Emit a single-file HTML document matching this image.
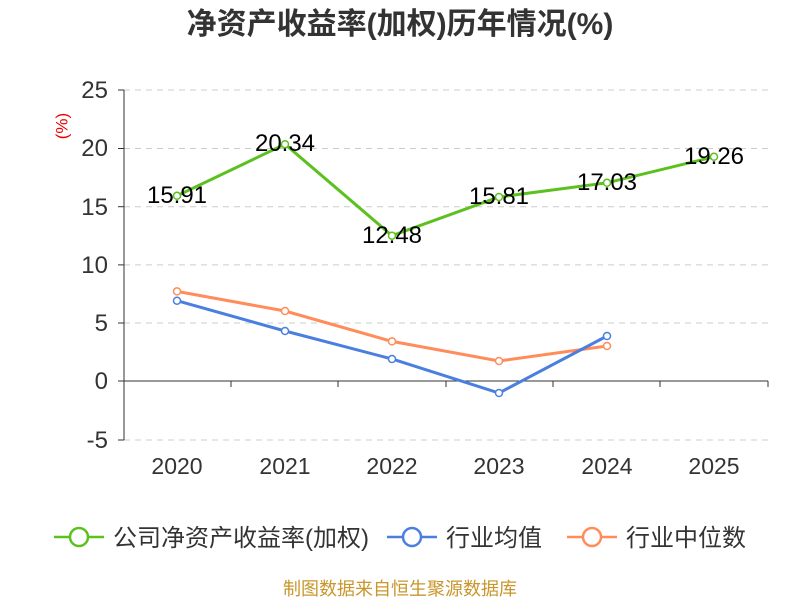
<!DOCTYPE html>
<html><head><meta charset="utf-8"><style>
body{margin:0;background:#fff;}
svg{display:block;font-family:"Liberation Sans","Noto Sans CJK SC",sans-serif;}
</style></head><body>
<svg width="800" height="600" viewBox="0 0 800 600">
<text x="400" y="34" text-anchor="middle" font-size="30" font-weight="bold" fill="#333">净资产收益率(加权)历年情况(%)</text>
<text x="63" y="126" font-size="17" fill="#e00" transform="rotate(-90 63 126)" text-anchor="middle" dominant-baseline="middle">(%)</text>
<g stroke="#ccc" stroke-dasharray="6,5" stroke-width="1">
<line x1="124" y1="90" x2="768" y2="90"/><line x1="124" y1="148.5" x2="768" y2="148.5"/>
<line x1="124" y1="206.7" x2="768" y2="206.7"/><line x1="124" y1="264.9" x2="768" y2="264.9"/>
<line x1="124" y1="323" x2="768" y2="323"/><line x1="124" y1="440" x2="768" y2="440"/>
</g>
<g stroke="#333" stroke-width="1">
<line x1="124" y1="90" x2="124" y2="440"/>
<line x1="118" y1="90" x2="124" y2="90"/><line x1="118" y1="148.5" x2="124" y2="148.5"/>
<line x1="118" y1="206.7" x2="124" y2="206.7"/><line x1="118" y1="264.9" x2="124" y2="264.9"/>
<line x1="118" y1="323" x2="124" y2="323"/><line x1="118" y1="381" x2="124" y2="381"/>
<line x1="118" y1="440" x2="124" y2="440"/>
<line x1="124" y1="381" x2="768" y2="381"/>
<line x1="231" y1="381" x2="231" y2="387"/><line x1="338" y1="381" x2="338" y2="387"/>
<line x1="446" y1="381" x2="446" y2="387"/><line x1="553" y1="381" x2="553" y2="387"/>
<line x1="660" y1="381" x2="660" y2="387"/><line x1="768" y1="381" x2="768" y2="387"/>
</g>
<g font-size="24" fill="#333" text-anchor="end">
<text x="108" y="98">25</text><text x="108" y="156">20</text><text x="108" y="215">15</text>
<text x="108" y="273">10</text><text x="108" y="331">5</text><text x="108" y="389">0</text><text x="108" y="448">-5</text>
</g>
<g font-size="23" fill="#333" text-anchor="middle">
<text x="177" y="474">2020</text><text x="285" y="474">2021</text><text x="392" y="474">2022</text>
<text x="499" y="474">2023</text><text x="607" y="474">2024</text><text x="714" y="474">2025</text>
</g>
<polyline fill="none" stroke="#ff8c5a" stroke-width="3" points="177,291.4 285,311 392,341.4 499,361 607,346"/>
<polyline fill="none" stroke="#4a7fe0" stroke-width="3" points="177,300.7 285,331 392,359 499,393 607,336"/>
<polyline fill="none" stroke="#5cc11f" stroke-width="3" points="177,195.8 285,144.2 392,235.7 499,197 607,182.8 714,156.8"/>
<g fill="#fff" stroke-width="1.5">
<g stroke="#ff8c5a"><circle cx="177" cy="291.4" r="3.5"/><circle cx="285" cy="311" r="3.5"/><circle cx="392" cy="341.4" r="3.5"/><circle cx="499" cy="361" r="3.5"/><circle cx="607" cy="346" r="3.5"/></g>
<g stroke="#4a7fe0"><circle cx="177" cy="300.7" r="3.5"/><circle cx="285" cy="331" r="3.5"/><circle cx="392" cy="359" r="3.5"/><circle cx="499" cy="393" r="3.5"/><circle cx="607" cy="336" r="3.5"/></g>
<g stroke="#5cc11f"><circle cx="177" cy="195.8" r="3.5"/><circle cx="285" cy="144.2" r="3.5"/><circle cx="392" cy="235.7" r="3.5"/><circle cx="499" cy="197" r="3.5"/><circle cx="607" cy="182.8" r="3.5"/><circle cx="714" cy="156.8" r="3.5"/></g>
</g>
<g font-size="24" fill="#000" text-anchor="middle">
<text x="177" y="203">15.91</text><text x="285" y="151">20.34</text><text x="392" y="243">12.48</text>
<text x="499" y="204">15.81</text><text x="607" y="190">17.03</text><text x="714" y="164">19.26</text>
</g>
<g stroke-width="2.5" fill="#fff">
<line x1="54" y1="537" x2="104" y2="537" stroke="#5cc11f"/><circle cx="79" cy="537" r="9" stroke="#5cc11f"/>
<line x1="387" y1="537" x2="437" y2="537" stroke="#4a7fe0"/><circle cx="412" cy="537" r="9" stroke="#4a7fe0"/>
<line x1="567" y1="537" x2="617" y2="537" stroke="#ff8c5a"/><circle cx="592" cy="537" r="9" stroke="#ff8c5a"/>
</g>
<g font-size="24" fill="#333">
<text x="113" y="546">公司净资产收益率(加权)</text>
<text x="446" y="546">行业均值</text>
<text x="626" y="546">行业中位数</text>
</g>
<text x="400" y="595" text-anchor="middle" font-size="18" fill="#c8962a">制图数据来自恒生聚源数据库</text>
</svg>
</body></html>
